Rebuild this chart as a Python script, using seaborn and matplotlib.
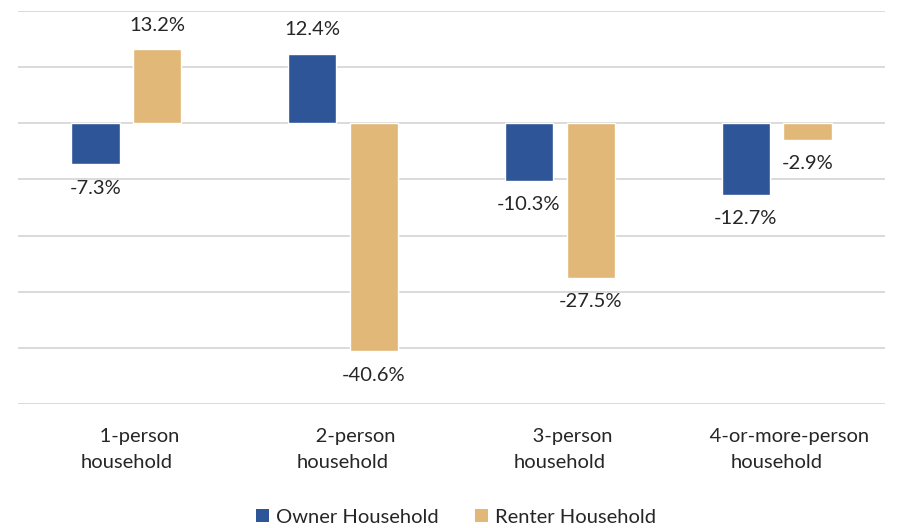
import seaborn as sns
import matplotlib.pyplot as plt
import pandas as pd
from matplotlib.patches import Patch

# Data
categories = ["1-person household", "2-person household", "3-person household", "4-or-more-person household"]
tick_labels = ["     1-person\nhousehold", "     2-person\nhousehold", "     3-person\nhousehold", "     4-or-more-person\nhousehold"]
owner = [-7.3, 12.4, -10.3, -12.7]
renter = [13.2, -40.6, -27.5, -2.9]
series = ["Owner Household", "Renter Household"]
colors = ["#2E5597", "#E2B878"]

df = pd.DataFrame({
    "category": categories * 2,
    "value": owner + renter,
    "series": [series[0]] * 4 + [series[1]] * 4,
})

sns.set_style("white")
plt.rcParams["font.family"] = ["Lato", "DejaVu Sans"]

fig = plt.figure(figsize=(8.98, 5.28), dpi=100)
ax = fig.add_axes([0.02, 0.2348, 0.9655, 0.7444])

sns.barplot(data=df, x="category", y="value", hue="series", palette=colors,
            width=0.57, gap=0.22, ax=ax, legend=False, saturation=1)

ax.set_ylim(-50, 20)
ax.set_yticks(range(-50, 21, 10))
ax.yaxis.grid(True, color="#d4d4d4", linewidth=1.2)
ax.set_axisbelow(True)
ax.tick_params(axis="y", left=False, labelleft=False)
ax.tick_params(axis="x", bottom=False, pad=14, labelsize=14.5, colors="#262626")
ax.set_xticks(range(4))
ax.set_xticklabels(tick_labels, linespacing=1.65)
ax.set_xlabel("")
ax.set_ylabel("")
for s in ax.spines.values():
    s.set_visible(False)

for cont in ax.containers:
    vals = cont.datavalues
    ax.bar_label(cont, labels=[f"{v:.1f}%" for v in vals], padding=11,
                 fontsize=14.5, color="#262626")

handles = [Patch(facecolor=c, edgecolor="none") for c in colors]
fig.legend(handles, series, loc="lower center", bbox_to_anchor=(0.508, -0.03), ncol=2,
           frameon=False, fontsize=14.5, handlelength=0.65, handleheight=0.65,
           handletextpad=0.35, columnspacing=1.8, labelcolor="#262626")

fig.savefig("out.png", dpi=100)
